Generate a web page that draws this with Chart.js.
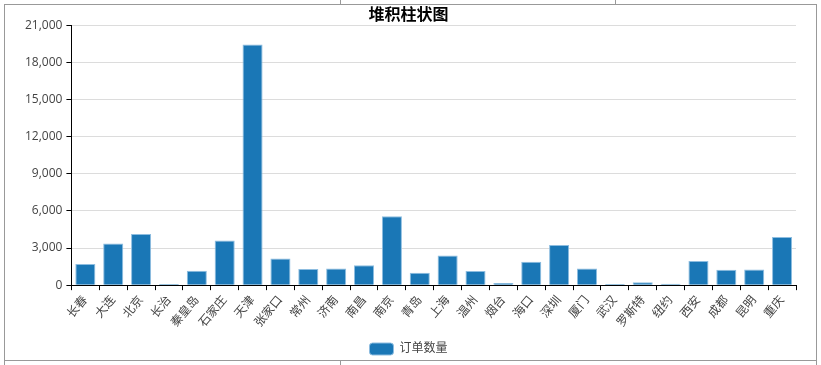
<!DOCTYPE html>
<html>
<head>
<meta charset="utf-8">
<script src="https://cdn.jsdelivr.net/npm/chart.js@4/dist/chart.umd.min.js"></script>
<style>
  html, body { margin: 0; padding: 0; background: #fff; }
  #wrap { position: absolute; left: 0; top: 0; width: 821px; height: 365px; }
  .ln { position: absolute; background: #999; pointer-events: none; }
</style>
</head>
<body>
<div id="wrap"><canvas id="c" width="821" height="365"></canvas></div>
<div class="ln" style="left:4px;top:4px;width:813px;height:1px;"></div>
<div class="ln" style="left:4px;top:360px;width:813px;height:1px;"></div>
<div class="ln" style="left:4px;top:4px;width:1px;height:361px;"></div>
<div class="ln" style="left:816px;top:4px;width:1px;height:361px;"></div>
<div class="ln" style="left:340px;top:0px;width:1px;height:4px;"></div>
<div class="ln" style="left:615px;top:0px;width:1px;height:4px;"></div>
<div class="ln" style="left:340px;top:360px;width:1px;height:5px;"></div>
<script>
const categories = ['长春','大连','北京','长治','秦皇岛','石家庄','天津','张家口','常州','济南','南昌','南京','青岛','上海','温州','烟台','海口','深圳','厦门','武汉','罗斯特','纽约','西安','成都','昆明','重庆'];
const orderCounts = [1700, 3370, 4130, 90, 1170, 3610, 19440, 2150, 1310, 1340, 1610, 5560, 1010, 2400, 1150, 170, 1900, 3250, 1350, 90, 240, 110, 1950, 1240, 1260, 3900];
const seriesName = '订单数量';
const titleText = '堆积柱状图';
const yTicks = [0, 3000, 6000, 9000, 12000, 15000, 18000, 21000];

const FONT = "'Open Sans', 'Noto Sans CJK SC', sans-serif";
new Chart(document.getElementById('c'), {
  type: 'bar',
  data: {
    labels: categories,
    datasets: [{
      label: seriesName,
      data: orderCounts,
      backgroundColor: '#1a77b6',
      borderColor: '#8dbde0',
      borderWidth: 1
    }]
  },
  options: {
    responsive: false,
    animation: false,
    layout: { padding: { left: 21, right: 25, top: 0, bottom: 0 } },
    plugins: {
      title: {
        display: true, text: titleText, color: '#000',
        font: { family: FONT, size: 16, weight: 'bold' },
        padding: { top: 6, bottom: 0 }
      },
      legend: {
        position: 'bottom',
        labels: {
          color: '#444', font: { family: FONT, size: 12 },
          boxWidth: 24, boxHeight: 12, useBorderRadius: true, borderRadius: 3
        }
      },
      tooltip: { enabled: false }
    },
    scales: {
      x: {
        grid: { drawOnChartArea: false, color: '#000', tickLength: 5, offset: true },
        border: { color: '#000' },
        ticks: { color: '#444', font: { family: FONT, size: 12 }, minRotation: 50, maxRotation: 50, autoSkip: false, padding: 3 }
      },
      y: {
        min: 0, max: 21000,
        afterBuildTicks: (s) => { s.ticks = yTicks.map(v => ({ value: v })); },
        grid: { color: '#dcdcdc', tickColor: '#000', tickLength: 5 },
        border: { color: '#000' },
        ticks: { color: '#444', font: { family: FONT, size: 12 }, padding: 4,
          callback: (v) => v.toLocaleString('en-US') }
      }
    }
  }
});
</script>
</body>
</html>
